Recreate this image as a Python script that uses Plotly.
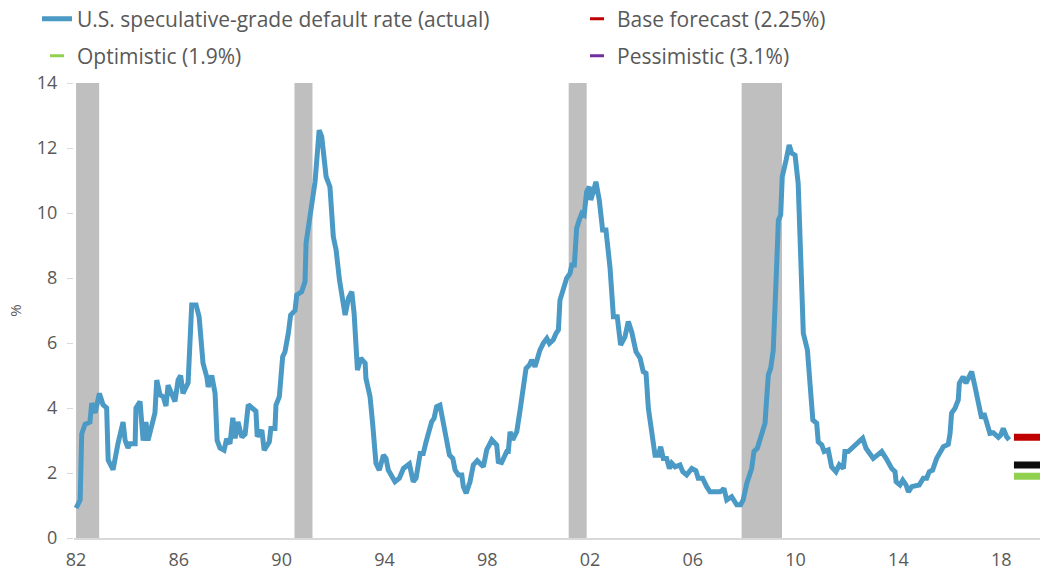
import plotly.graph_objects as go

# Decimal-year positions (Jan 1982 = 1982.0) and default rate (%)
years = [
    1982.00, 1982.16, 1982.22, 1982.35, 1982.54, 1982.61, 1982.74, 1982.91, 1983.05, 1983.19,
    1983.25, 1983.39, 1983.44, 1983.63, 1983.71, 1983.83, 1983.91, 1984.02, 1984.10, 1984.30,
    1984.33, 1984.49, 1984.61, 1984.72, 1984.80, 1984.95, 1985.07, 1985.14, 1985.27, 1985.39,
    1985.50, 1985.58, 1985.72, 1985.85, 1985.97, 1986.07, 1986.16, 1986.28, 1986.36, 1986.50,
    1986.67, 1986.79, 1986.94, 1987.09, 1987.14, 1987.28, 1987.41, 1987.49, 1987.60, 1987.76,
    1987.86, 1987.99, 1988.10, 1988.19, 1988.30, 1988.45, 1988.58, 1988.70, 1988.89, 1989.00,
    1989.05, 1989.23, 1989.32, 1989.52, 1989.58, 1989.74, 1989.78, 1989.91, 1990.04, 1990.13,
    1990.26, 1990.35, 1990.52, 1990.59, 1990.78, 1990.91, 1990.95, 1991.11, 1991.30, 1991.46,
    1991.56, 1991.73, 1991.88, 1992.01, 1992.12, 1992.25, 1992.38, 1992.47, 1992.60, 1992.73,
    1992.82, 1992.95, 1993.08, 1993.25, 1993.28, 1993.44, 1993.54, 1993.67, 1993.80, 1993.96,
    1994.06, 1994.15, 1994.41, 1994.58, 1994.74, 1994.97, 1995.12, 1995.23, 1995.39, 1995.51,
    1995.62, 1995.84, 1995.93, 1996.03, 1996.16, 1996.30, 1996.40, 1996.53, 1996.66, 1996.75,
    1996.88, 1997.01, 1997.07, 1997.18, 1997.33, 1997.46, 1997.61, 1997.85, 1997.98, 1998.18,
    1998.37, 1998.43, 1998.56, 1998.76, 1998.82, 1998.89, 1998.99, 1999.15, 1999.28, 1999.40,
    1999.51, 1999.64, 1999.73, 1999.86, 2000.05, 2000.18, 2000.32, 2000.42, 2000.57, 2000.68,
    2000.77, 2000.83, 2000.96, 2001.09, 2001.22, 2001.29, 2001.39, 2001.48, 2001.58, 2001.68,
    2001.77, 2001.87, 2001.97, 2002.03, 2002.13, 2002.23, 2002.36, 2002.49, 2002.62, 2002.78,
    2002.91, 2003.06, 2003.19, 2003.36, 2003.49, 2003.62, 2003.79, 2003.95, 2004.07, 2004.18,
    2004.27, 2004.44, 2004.53, 2004.66, 2004.75, 2004.85, 2004.98, 2005.09, 2005.18, 2005.31,
    2005.50, 2005.61, 2005.76, 2005.96, 2006.12, 2006.21, 2006.38, 2006.54, 2006.67, 2006.93,
    2007.06, 2007.16, 2007.21, 2007.32, 2007.51, 2007.71, 2007.86, 2007.96, 2008.10, 2008.29,
    2008.38, 2008.51, 2008.68, 2008.81, 2008.87, 2008.94, 2009.03, 2009.13, 2009.24, 2009.33,
    2009.42, 2009.48, 2009.63, 2009.75, 2009.85, 2009.98, 2010.10, 2010.24, 2010.30, 2010.46,
    2010.56, 2010.67, 2010.82, 2010.88, 2011.02, 2011.11, 2011.27, 2011.40, 2011.57, 2011.70,
    2011.86, 2011.92, 2012.05, 2012.24, 2012.44, 2012.61, 2012.74, 2012.89, 2013.02, 2013.18,
    2013.35, 2013.52, 2013.61, 2013.74, 2013.87, 2013.91, 2014.06, 2014.17, 2014.30, 2014.39,
    2014.52, 2014.71, 2014.81, 2014.97, 2015.10, 2015.20, 2015.33, 2015.49, 2015.62, 2015.75,
    2015.94, 2016.01, 2016.07, 2016.20, 2016.33, 2016.37, 2016.52, 2016.63, 2016.72, 2016.85,
    2016.98, 2017.11, 2017.24, 2017.33, 2017.44, 2017.56, 2017.69, 2017.89, 2017.98, 2018.08,
    2018.21, 2018.31,
]
default_rate = [
    0.92, 1.17, 3.20, 3.50, 3.57, 4.15, 3.85, 4.45, 4.10, 4.00,
    2.40, 2.10, 2.10, 2.90, 3.20, 3.57, 3.00, 2.77, 2.90, 2.90,
    4.00, 4.20, 3.00, 3.57, 3.00, 3.40, 3.85, 4.86, 4.40, 4.35,
    4.06, 4.70, 4.45, 4.20, 4.86, 5.00, 4.45, 4.70, 4.77, 7.17,
    7.17, 6.80, 5.38, 4.95, 4.65, 5.00, 4.45, 3.00, 2.77, 2.70,
    3.05, 2.90, 3.70, 3.07, 3.57, 3.10, 3.20, 4.10, 4.00, 3.90,
    3.12, 3.32, 2.70, 2.96, 3.37, 3.37, 4.09, 4.35, 5.58, 5.73,
    6.30, 6.86, 7.00, 7.48, 7.58, 7.89, 9.07, 10.00, 10.96, 12.55,
    12.35, 11.12, 10.80, 9.27, 8.86, 7.94, 7.32, 6.86, 7.38, 7.58,
    6.91, 5.17, 5.53, 5.38, 4.91, 4.35, 3.53, 2.30, 2.09, 2.55,
    2.45, 2.09, 1.73, 1.84, 2.14, 2.28, 1.73, 1.84, 2.60, 2.60,
    2.96, 3.58, 3.68, 4.04, 4.09, 3.53, 3.12, 2.55, 2.45, 2.09,
    1.94, 1.94, 1.58, 1.38, 1.73, 2.25, 2.38, 2.19, 2.71, 3.02,
    2.86, 2.35, 2.32, 2.66, 2.66, 3.27, 3.02, 3.27, 3.94, 4.60,
    5.22, 5.32, 5.48, 5.27, 5.78, 5.99, 6.14, 5.99, 6.10, 6.30,
    6.40, 7.32, 7.68, 7.99, 8.14, 8.40, 8.40, 9.53, 9.78, 9.99,
    9.94, 10.66, 10.81, 10.40, 10.66, 10.96, 10.40, 9.48, 9.48, 8.30,
    6.81, 6.81, 5.94, 6.19, 6.66, 6.35, 5.73, 5.53, 5.12, 5.07,
    3.99, 2.96, 2.55, 2.55, 2.81, 2.45, 2.45, 2.14, 2.30, 2.19,
    2.25, 2.04, 1.94, 2.14, 2.07, 1.84, 1.84, 1.58, 1.42, 1.42,
    1.42, 1.48, 1.53, 1.17, 1.27, 1.02, 1.02, 1.17, 1.68, 2.14,
    2.66, 2.76, 3.27, 3.53, 4.25, 5.02, 5.22, 5.78, 7.94, 9.78,
    9.94, 11.12, 11.63, 12.09, 11.84, 11.78, 10.91, 8.25, 6.30, 5.78,
    4.66, 3.63, 3.53, 2.96, 2.86, 2.66, 2.71, 2.19, 2.04, 2.25,
    2.14, 2.66, 2.66, 2.81, 2.96, 3.07, 2.76, 2.60, 2.45, 2.55,
    2.66, 2.45, 2.32, 2.14, 2.04, 1.73, 1.63, 1.78, 1.63, 1.42,
    1.58, 1.63, 1.63, 1.84, 1.84, 2.04, 2.09, 2.45, 2.66, 2.81,
    2.88, 3.22, 3.84, 3.99, 4.25, 4.76, 4.96, 4.76, 4.91, 5.12,
    4.66, 4.14, 3.68, 3.84, 3.58, 3.22, 3.24, 3.10, 3.17, 3.37,
    3.12, 3.02,
]

# Recessions (start, end) in decimal years
recession_start = [1982.00, 1990.50, 2001.17, 2007.90]
recession_end = [1982.90, 1991.20, 2001.87, 2009.47]

# Forecast markers as drawn (value, colour)
forecast_x = [2019.15, 2019.15, 2019.15]
forecast_values = [3.1, 2.25, 1.9]
forecast_colors = ["#C00000", "#0D0D0D", "#92D050"]

# Legend entries
legend_names = ["Base forecast (2.25%)", "Optimistic (1.9%)", "Pessimistic (3.1%)"]
legend_colors = ["#C00000", "#92D050", "#7030A0"]

tick_years = [1982, 1986, 1990, 1994, 1998, 2002, 2006, 2010, 2014, 2018]
tick_text = ["82", "86", "90", "94", "98", "02", "06", "10", "14", "18"]

FONT = "'Open Sans', Roboto, sans-serif"
TXT = "#595959"
W, H = 1040, 578

fig = go.Figure()

for x0, x1 in zip(recession_start, recession_end):
    fig.add_shape(type="rect", xref="x", yref="y", x0=x0, x1=x1, y0=0, y1=14,
                  fillcolor="#BFBFBF", line=dict(width=0), layer="below")

fig.add_trace(go.Scatter(
    x=years, y=default_rate, mode="lines",
    name="U.S. speculative-grade default rate (actual)",
    line=dict(color="#4B9AC5", width=5),
    legend="legend", hoverinfo="skip",
))

fig.add_trace(go.Scatter(
    x=forecast_x, y=forecast_values, mode="markers", showlegend=False,
    marker=dict(symbol="line-ew", size=24, color=forecast_colors,
                line=dict(width=7, color=forecast_colors)),
    hoverinfo="skip",
))

legend_ids = ["legend2", "legend3", "legend4"]
for name, color, lid in zip(legend_names, legend_colors, legend_ids):
    fig.add_trace(go.Scatter(
        x=[None], y=[None], mode="markers", name=name, legend=lid,
        marker=dict(symbol="line-ew", size=10, color=color, line=dict(width=3, color=color)),
    ))

col1_x = 37 / W
col2_x = 577 / W
row1_y = 1 - 19 / H
row2_y = 1 - 56 / H

def leg(x, y):
    return dict(x=x, y=y, xref="container", yref="container", xanchor="left", yanchor="middle",
                orientation="h", bgcolor="rgba(0,0,0,0)", borderwidth=0,
                font=dict(family=FONT, size=21, color=TXT))

fig.update_layout(
    width=W, height=H,
    margin=dict(l=74, r=0, t=83, b=40, autoexpand=False),
    paper_bgcolor="white", plot_bgcolor="white",
    font=dict(family=FONT, color=TXT),
    legend=leg(col1_x, row1_y),
    legend2=leg(col2_x, row1_y),
    legend3=leg(col1_x, row2_y),
    legend4=leg(col2_x, row2_y),
    xaxis=dict(
        range=[1981.92, 2019.51], tickmode="array", tickvals=tick_years, ticktext=tick_text,
        showgrid=False, zeroline=False, showline=True, linecolor="#D9D9D9", linewidth=2,
        ticks="", ticklabelstandoff=4, tickfont=dict(family=FONT, size=18, color=TXT),
    ),
    yaxis=dict(
        range=[0, 14], dtick=2, showgrid=False, zeroline=False, showline=False,
        ticks="outside", ticklen=6, tickcolor="#D9D9D9", tickwidth=1,
        ticklabelstandoff=6,
        tickfont=dict(family=FONT, size=18, color=TXT),
        title=dict(text="%", font=dict(family=FONT, size=15, color=TXT), standoff=11),
    ),
)

fig.write_html("out.html", config={"displayModeBar": False},
               post_script="document.body.style.margin='0';document.body.style.overflow='hidden';")
